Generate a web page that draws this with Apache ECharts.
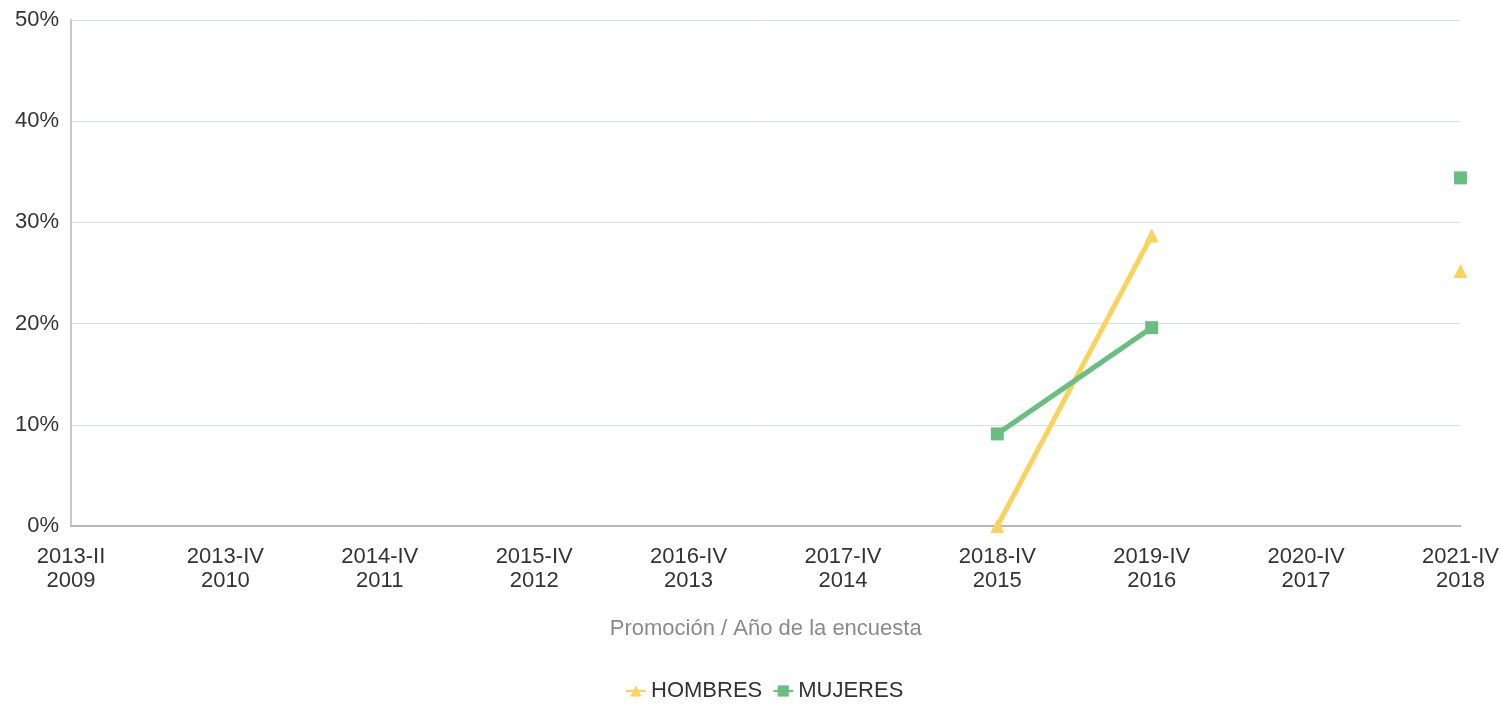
<!DOCTYPE html>
<html>
<head>
<meta charset="utf-8">
<script src="https://cdn.jsdelivr.net/npm/echarts@6/dist/echarts.min.js"></script>
<style>
  html, body { margin: 0; padding: 0; background: #fff; }
  #main { width: 1502px; height: 709px; }
</style>
</head>
<body>
<div id="main"></div>
<script>
var categorias = ['2013-II\n2009', '2013-IV\n2010', '2014-IV\n2011', '2015-IV\n2012', '2016-IV\n2013',
                  '2017-IV\n2014', '2018-IV\n2015', '2019-IV\n2016', '2020-IV\n2017', '2021-IV\n2018'];
var hombres = [null, null, null, null, null, null, 0, 28.7, null, 25.2];
var mujeres = [null, null, null, null, null, null, 9.1, 19.6, null, 34.4];
var yTicks = [0, 10, 20, 30, 40, 50];

var myChart = echarts.init(document.getElementById('main'));
var fuente = '"Liberation Sans", Arial, sans-serif';

option = {
    color: ['#f8d35e', '#69bf7f'],
    textStyle: { fontFamily: fuente },
    grid: { left: 71, right: 41, top: 20, bottom: 183 },
    legend: {
        bottom: 2,
        left: 620,
        itemWidth: 20,
        itemHeight: 14,
        itemGap: 10,
        textStyle: { fontSize: 22, color: '#333', fontFamily: fuente },
        data: ['HOMBRES', 'MUJERES']
    },
    xAxis: {
        type: 'category',
        boundaryGap: false,
        data: categorias,
        name: 'Promoción / Año de la encuesta',
        nameLocation: 'middle',
        nameGap: 92,
        nameTextStyle: { fontSize: 22, color: '#8a8a8a', fontFamily: fuente },
        axisLine: { lineStyle: { color: '#b8b8b8', width: 2 } },
        axisTick: { show: false },
        axisLabel: { fontSize: 22, color: '#333', lineHeight: 24, margin: 19, fontFamily: fuente },
        splitLine: { show: false }
    },
    yAxis: {
        type: 'value',
        min: yTicks[0],
        max: yTicks[yTicks.length - 1],
        interval: 10,
        axisLine: { show: true, lineStyle: { color: '#c8c8c8', width: 2 } },
        axisTick: { show: false },
        axisLabel: { fontSize: 22, color: '#333', margin: 12, padding: [5, 0, 0, 0], formatter: '{value}%', fontFamily: fuente },
        splitLine: { lineStyle: { color: '#d6dee7', width: 1 } }
    },
    series: [
        {
            name: 'HOMBRES',
            type: 'line',
            data: hombres,
            symbol: 'triangle',
            symbolSize: 14,
            showAllSymbol: true,
            connectNulls: false,
            lineStyle: { width: 5 },
            itemStyle: { color: '#f8d35e' }
        },
        {
            name: 'MUJERES',
            type: 'line',
            data: mujeres,
            symbol: 'rect',
            symbolSize: 13,
            showAllSymbol: true,
            connectNulls: false,
            lineStyle: { width: 5 },
            itemStyle: { color: '#69bf7f' }
        }
    ]
};

myChart.setOption(option, true);
</script>
</body>
</html>
